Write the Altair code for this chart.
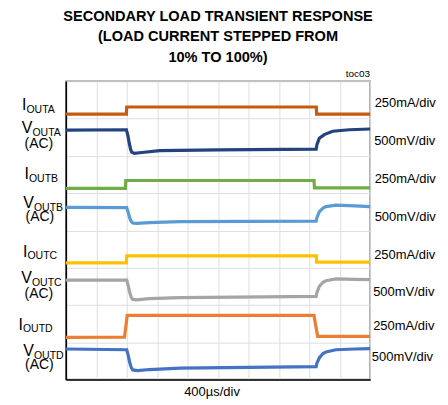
import altair as alt
import pandas as pd

# ---- data (time in µs, vertical position in scope divisions) ----
traces = ["IOUTA", "VOUTA", "IOUTB", "VOUTB", "IOUTC", "VOUTC", "IOUTD", "VOUTD"]
colors = ["#c55a11", "#22437f", "#70ad47", "#5b9bd5", "#ffc000", "#a5a5a5", "#ed7d31", "#4472c4"]

t_iouta = [0, 796, 800, 3292, 3296, 4000]
y_iouta = [7.12, 7.12, 7.31, 7.31, 7.12, 7.12]

t_vouta = [0, 796, 815, 835, 850, 865, 900, 1000, 1233, 2000, 3290, 3300, 3331, 3397, 3506, 3725, 4000]
y_vouta = [6.69, 6.70, 6.55, 6.32, 6.18, 6.10, 6.07, 6.09, 6.14, 6.16, 6.18, 6.30, 6.47, 6.57, 6.66, 6.70, 6.72]

t_ioutb = [0, 783, 787, 3262, 3268, 4000]
y_ioutb = [5.13, 5.13, 5.34, 5.34, 5.14, 5.14]

t_voutb = [0, 800, 820, 840, 860, 880, 927, 1100, 1500, 3290, 3300, 3331, 3380, 3419, 3550, 3800, 4000]
y_voutb = [4.62, 4.61, 4.48, 4.33, 4.24, 4.20, 4.19, 4.21, 4.235, 4.25, 4.34, 4.50, 4.60, 4.64, 4.68, 4.66, 4.64]

t_ioutc = [0, 796, 800, 3292, 3296, 4000]
y_ioutc = [3.13, 3.13, 3.32, 3.32, 3.15, 3.15]

t_voutc = [0, 800, 820, 840, 860, 880, 927, 1100, 1500, 3290, 3300, 3331, 3380, 3419, 3550, 3800, 4000]
y_voutc = [2.67, 2.67, 2.52, 2.33, 2.20, 2.15, 2.14, 2.17, 2.20, 2.23, 2.33, 2.50, 2.61, 2.65, 2.70, 2.69, 2.68]

t_ioutd = [0, 770, 790, 806, 3262, 3280, 3310, 4000]
y_ioutd = [1.13, 1.14, 1.45, 1.72, 1.72, 1.50, 1.16, 1.16]

t_voutd = [0, 800, 820, 840, 860, 880, 944, 1100, 1500, 3290, 3300, 3331, 3380, 3419, 3550, 3800, 4000]
y_voutd = [0.82, 0.80, 0.65, 0.45, 0.32, 0.26, 0.24, 0.27, 0.31, 0.35, 0.44, 0.58, 0.70, 0.74, 0.80, 0.82, 0.83]

T = [t_iouta, t_vouta, t_ioutb, t_voutb, t_ioutc, t_voutc, t_ioutd, t_voutd]
Y = [y_iouta, y_vouta, y_ioutb, y_voutb, y_ioutc, y_voutc, y_ioutd, y_voutd]

x_grid = [0, 400, 800, 1200, 1600, 2000, 2400, 2800, 3200, 3600, 4000]
y_grid = [0, 1, 2, 3, 4, 5, 6, 7, 8]

title_lines = ["SECONDARY LOAD TRANSIENT RESPONSE", "(LOAD CURRENT STEPPED FROM", "10% TO 100%)"]
main_letters = ["I", "V", "I", "V", "I", "V", "I", "V"]
sub_texts = ["OUTA", "OUTA", "OUTB", "OUTB", "OUTC", "OUTC", "OUTD", "OUTD"]
scale_labels = ["250mA/div", "500mV/div", "250mA/div", "500mV/div",
                "250mA/div", "500mV/div", "250mA/div", "500mV/div"]
time_label = "400µs/div"
tag_label = "toc03"

rows = []
for name, ts, ys in zip(traces, T, Y):
    for t, v in zip(ts, ys):
        rows.append({"trace": name, "t": t, "v": v})
df = pd.DataFrame(rows)

FONT = "Liberation Sans, Arial, sans-serif"

lines = alt.Chart(df).mark_line(strokeWidth=3.2).encode(
    x=alt.X("t:Q", scale=alt.Scale(domain=[0, 4000], nice=False, zero=False),
            axis=alt.Axis(values=x_grid, labels=False, ticks=False, title=None, grid=True,
                          gridColor="#dedede", gridWidth=1, domainColor="#000000", domainWidth=1.5)),
    y=alt.Y("v:Q", scale=alt.Scale(domain=[0, 8], nice=False, zero=False),
            axis=alt.Axis(values=y_grid, labels=False, ticks=False, title=None, grid=True,
                          gridColor="#dedede", gridWidth=1, domainColor="#000000", domainWidth=1.5)),
    color=alt.Color("trace:N", scale=alt.Scale(domain=traces, range=colors), legend=None),
)


def txt(s, x, y, size, align="left", weight="normal", font=FONT):
    return alt.Chart(alt.Data(values=[{}])).mark_text(
        text=s, fontSize=size, align=align, baseline="alphabetic", font=font,
        fontWeight=weight, color="#000000"
    ).encode(x=alt.value(x), y=alt.value(y))


layers = [lines]
# title
for s, yy in zip(title_lines, [-60.3, -40.5, -19.5]):
    layers.append(txt(s, 152.5, yy, 14.6, align="center", weight="bold"))
layers.append(txt(tag_label, 305, -4.3, 10, align="right"))
layers.append(txt(time_label, 146.5, 315, 13, align="center"))

# left labels
main_x = [-39.5, -33.5, -37, -32, -38.5, -34, -43, -32]
main_y = [29, 51.7, 98.3, 127.3, 175.7, 202.3, 249, 275.7]
for m, s, mx, my in zip(main_letters, sub_texts, main_x, main_y):
    layers.append(txt(m, mx, my, 16, align="right"))
    layers.append(txt(s, mx, my + 2.7, 10.5, align="left"))
ac_x = [-27, -26, -27, -26.5]
ac_y = [67, 140, 217.5, 288.5]
for ax_, ay_ in zip(ac_x, ac_y):
    layers.append(txt("(AC)", ax_, ay_, 14, align="center"))

# right labels
rx = [309.5, 309, 309.5, 309.5, 309, 308, 308, 306.7]
ry = [26, 64, 102, 140, 178.5, 215, 249, 280]
for s, xx, yy in zip(scale_labels, rx, ry):
    layers.append(txt(s, xx, yy, 13, align="left"))

chart = alt.layer(*layers).properties(
    width=305, height=299,
    autosize=alt.AutoSizeParams(type="none"),
    padding={"left": 58, "top": 73, "right": 70, "bottom": 25},
).configure_view(stroke="#808080", strokeWidth=1.5)

chart.save("out.html", embed_options={"renderer": "svg", "actions": False})
